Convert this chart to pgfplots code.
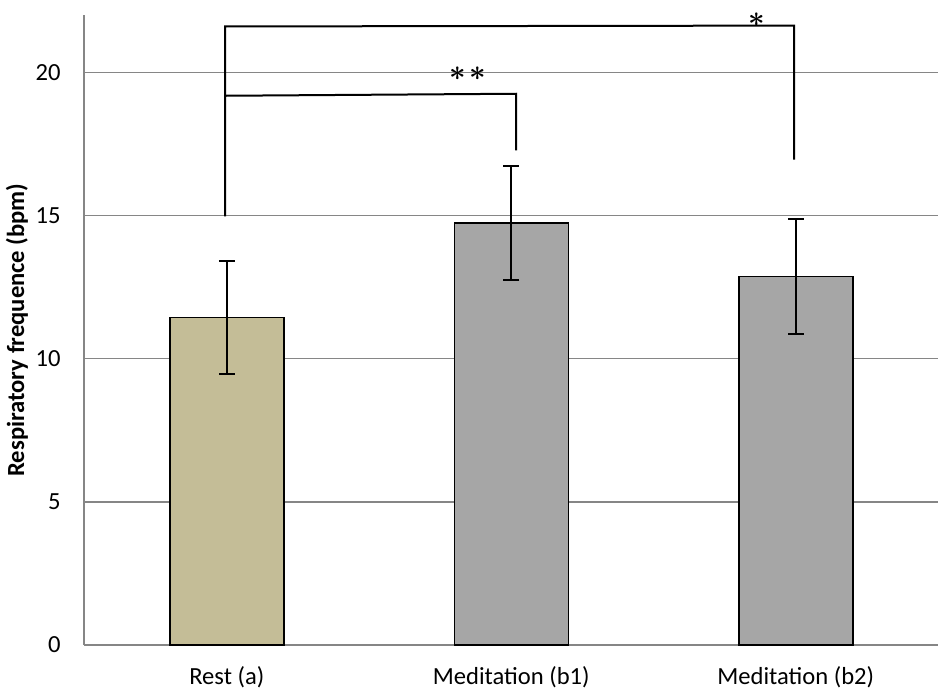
\documentclass[border=0pt]{standalone}
\usepackage{fontspec}
\setmainfont{Carlito}
\usepackage{pgfplots}
\pgfplotsset{compat=1.18}

\definecolor{restfill}{HTML}{C4BD97}
\definecolor{medfill}{HTML}{A6A6A6}
\definecolor{gridgray}{HTML}{868686}

\begin{document}
\begin{tikzpicture}
\useasboundingbox (0,0) rectangle (472.5pt,348.5pt);
\begin{axis}[
  at={(42pt,26pt)}, anchor=south west,
  scale only axis, width=427pt, height=315pt,
  xmin=-0.502, xmax=2.5, ymin=0, ymax=22,
  xtick={0,1,2},
  xticklabels={Rest (a), Meditation (b1), Meditation (b2)},
  ytick={0,5,10,15,20},
  ymajorgrids, grid style={gridgray, line width=0.75pt},
  axis x line=bottom, axis y line=left,
  axis line style={-, gridgray, line width=0.75pt},
  major tick length=0pt,
  font=\fontsize{12.3}{14}\selectfont,
  /pgf/number format/assume math mode=true,
  yticklabel style={inner sep=0pt, anchor=east, xshift=-11.5pt},
  xticklabel style={inner sep=0pt, anchor=north, yshift=-10.5pt},
  ylabel={\bfseries Respiratory frequence (bpm)},
  ylabel style={at={(axis description cs:-0.0785,0.5)}, anchor=center, font=\fontsize{12.3}{14}\selectfont},
  ybar, bar width=57pt, bar shift=0pt,
  clip=false,
]
\addplot[draw=black, fill=restfill, line width=0.75pt,
  error bars/.cd, y dir=both, y explicit,
  error bar style={black, line width=0.9pt},
  error mark options={black, line width=0.9pt, mark size=4pt, rotate=90}]
  coordinates {(0,11.43) +- (0,1.98)};
\addplot[draw=black, fill=medfill, line width=0.75pt,
  error bars/.cd, y dir=both, y explicit,
  error bar style={black, line width=0.9pt},
  error mark options={black, line width=0.9pt, mark size=4pt, rotate=90}]
  coordinates {(1,14.73) +- (0,1.99) (2,12.87) +- (0,2.0)};

% significance brackets
\draw[black, line width=1pt] (axis cs:-0.006,14.97) -- (axis cs:-0.006,21.6) -- (axis cs:1.994,21.63) -- (axis cs:1.994,16.95);
\draw[black, line width=1pt] (axis cs:-0.006,19.18) -- (axis cs:1.017,19.25) -- (axis cs:1.017,17.27);
\node[inner sep=0pt, font=\fontsize{14}{14}\selectfont\boldmath] at (axis cs:0.848,19.96) {$\ast\mkern2mu\ast$};
\node[inner sep=0pt, font=\fontsize{14}{14}\selectfont\boldmath] at (axis cs:1.864,21.82) {$\ast$};
\end{axis}
\end{tikzpicture}
\end{document}
